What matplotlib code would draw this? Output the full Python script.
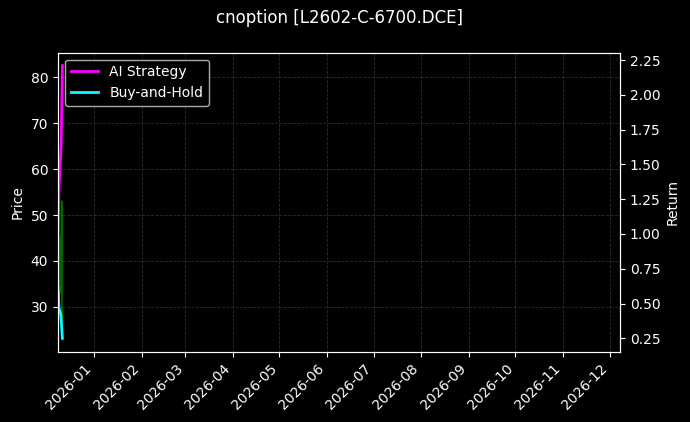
import matplotlib
matplotlib.use("Agg")
import matplotlib.pyplot as plt
import matplotlib.dates as mdates
import pandas as pd
import numpy as np

plt.style.use("dark_background")

# ---- data ----
start = pd.Timestamp("2025-12-08 12:00")
price_days = [0.0, 0.15, 0.3, 0.45, 0.6, 0.75, 0.9, 1.05, 1.2, 1.35, 1.5, 1.65,
              1.8, 1.95, 2.1, 2.25, 2.4, 2.5, 2.6, 2.7, 2.85]
price_vals = [45, 41, 46, 38, 44, 36, 43, 35, 41, 37, 45, 34,
              40, 33, 38, 47, 53, 36, 30, 26, 28]
strat_days = [0.0, 0.7, 2.0, 2.85]
strat_vals = [1.00, 1.35, 1.63, 2.21]
bh_days = [0.0, 0.3, 0.6, 1.8, 2.85]
bh_vals = [0.62, 0.57, 0.47, 0.42, 0.25]

title = "cnoption [L2602-C-6700.DCE]"
x_start = pd.Timestamp("2025-12-08 12:00")
x_end = pd.Timestamp("2026-12-07 18:00")

price_t = [start + pd.Timedelta(days=d) for d in price_days]
strat_t = [start + pd.Timedelta(days=d) for d in strat_days]
bh_t = [start + pd.Timedelta(days=d) for d in bh_days]

fig = plt.figure(figsize=(6.9, 4.22), dpi=100)
fig.patch.set_facecolor("black")
ax1 = fig.add_axes([58/690, 1-351.7/422, (620-58)/690, (351.7-52.7)/422])
ax1.set_facecolor("black")
ax1.plot(price_t, price_vals, color="green", lw=1.3, alpha=0.8)
ax1.set_ylabel("Price", color="white")
ax1.set_ylim(20.2, 85.4)
ax1.grid(True, linestyle="--", color="grey", alpha=0.35, lw=0.6)

ax2 = ax1.twinx()
ax2.plot(strat_t, strat_vals, color="magenta", lw=2, label="AI Strategy")
ax2.plot(bh_t, bh_vals, color="cyan", lw=2, label="Buy-and-Hold")
ax2.set_ylabel("Return", color="white")
ax2.set_ylim(0.154, 2.303)
ax2.set_yticks([0.25, 0.5, 0.75, 1.0, 1.25, 1.5, 1.75, 2.0, 2.25])

ax1.set_xlim(x_start, x_end)
ax1.xaxis.set_major_locator(mdates.MonthLocator())
ax1.xaxis.set_major_formatter(mdates.DateFormatter("%Y-%m"))
for lab in ax1.get_xticklabels():
    lab.set_rotation(45)
    lab.set_ha("right")

leg = ax2.legend(loc="upper left", facecolor="black", edgecolor="lightgrey")

fig.text(339/690, 1-18/422, title, ha="center", va="center", fontsize=12, color="white")

fig.savefig("out.png", dpi=100, facecolor="black")
